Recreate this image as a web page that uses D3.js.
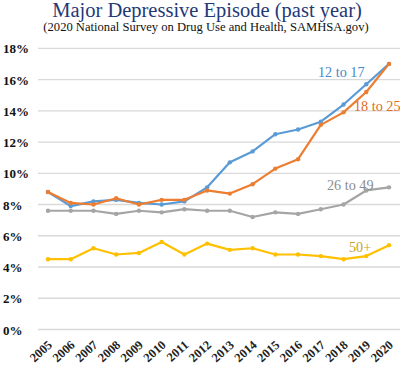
<!DOCTYPE html>
<html><head><meta charset="utf-8">
<script src="https://cdn.jsdelivr.net/npm/d3@7"></script>
<style>body{margin:0;background:#fff}svg{display:block}</style>
</head><body>
<svg id="c" width="400" height="365"></svg>
<script>
const years = ["2005","2006","2007","2008","2009","2010","2011","2012","2013","2014","2015","2016","2017","2018","2019","2020"];
const s12to17 = [8.8,7.9,8.2,8.3,8.1,8.0,8.2,9.1,10.7,11.4,12.5,12.8,13.3,14.4,15.7,17.0];
const s18to25 = [8.8,8.1,8.0,8.4,8.0,8.3,8.3,8.9,8.7,9.3,10.3,10.9,13.1,13.9,15.2,17.0];
const s26to49 = [7.6,7.6,7.6,7.4,7.6,7.5,7.7,7.6,7.6,7.2,7.5,7.4,7.7,8.0,8.9,9.1];
const s50plus = [4.5,4.5,5.2,4.8,4.9,5.6,4.8,5.5,5.1,5.2,4.8,4.8,4.7,4.5,4.7,5.4];
const yTicks = [0,2,4,6,8,10,12,14,16,18];
const seriesNames = ["12 to 17","18 to 25","26 to 49","50+"];

const series = [
  {name: seriesNames[0], values: s12to17, color: "#5B9BD5", label: "#4A86C8", lx: 318, ly: 77},
  {name: seriesNames[1], values: s18to25, color: "#ED7D31", label: "#E06A1E", lx: 354, ly: 111},
  {name: seriesNames[2], values: s26to49, color: "#A5A5A5", label: "#8C8C8C", lx: 327, ly: 190},
  {name: seriesNames[3], values: s50plus, color: "#FFC000", label: "#C9A21A", lx: 349, ly: 252}
];
const SERIF = "'Liberation Serif', 'Times New Roman', serif";

const svg = d3.select("#c");
const x = d3.scalePoint().domain(years).range([48, 389]);
const y = d3.scaleLinear().domain([0, 18]).range([329.5, 48.3]);

svg.append("text").attr("x", 207).attr("y", 17).attr("text-anchor", "middle")
  .style("font-family", SERIF).attr("font-size", 20.5).attr("fill", "#1F3A78")
  .text("Major Depressive Episode (past year)");
svg.append("text").attr("x", 206).attr("y", 31).attr("text-anchor", "middle")
  .style("font-family", SERIF).attr("font-size", 12.6).attr("fill", "#111")
  .text("(2020 National Survey on Drug Use and Health, SAMHSA.gov)");

// grid
svg.append("g").selectAll("line").data(yTicks).join("line")
  .attr("x1", 38).attr("x2", 400).attr("y1", d => y(d)).attr("y2", d => y(d))
  .attr("stroke", "#D9D9D9").attr("stroke-width", 1.3);

const yAxis = d3.axisLeft(y).tickValues(yTicks).tickFormat(d => d + "%").tickSize(0);
const ga = svg.append("g").attr("transform", "translate(3,0)").call(yAxis);
ga.select(".domain").remove();
ga.selectAll("text").attr("text-anchor", "start").attr("x", 0).attr("dy", "0.35em")
  .style("font-family", SERIF).attr("font-weight", "bold").attr("font-size", 13).attr("fill", "#111");

const xAxis = d3.axisBottom(x).tickSize(0);
const gx = svg.append("g").call(xAxis);
gx.select(".domain").remove();
gx.selectAll(".tick").attr("transform", d => `translate(${x(d) + 5},346)`);
gx.selectAll("text").attr("x", 0).attr("y", 0).attr("dy", 0)
  .attr("text-anchor", "end").attr("transform", "rotate(-42)")
  .style("font-family", SERIF).attr("font-weight", "bold").attr("font-size", 12.5).attr("fill", "#222");

const line = d3.line().x((d, i) => x(years[i])).y(d => y(d));
const order = [3, 2, 0, 1];
order.forEach(k => {
  const s = series[k];
  svg.append("path").attr("d", line(s.values)).attr("fill", "none")
    .attr("stroke", s.color).attr("stroke-width", 2.2).attr("stroke-linejoin", "round");
  svg.append("g").selectAll("circle").data(s.values).join("circle")
    .attr("cx", (d, i) => x(years[i])).attr("cy", d => y(d)).attr("r", 2.2).attr("fill", s.color);
});
series.forEach(s => {
  svg.append("text").attr("x", s.lx).attr("y", s.ly)
    .style("font-family", SERIF).attr("font-size", 14.2).attr("fill", s.label).text(s.name);
});
</script>
</body></html>
